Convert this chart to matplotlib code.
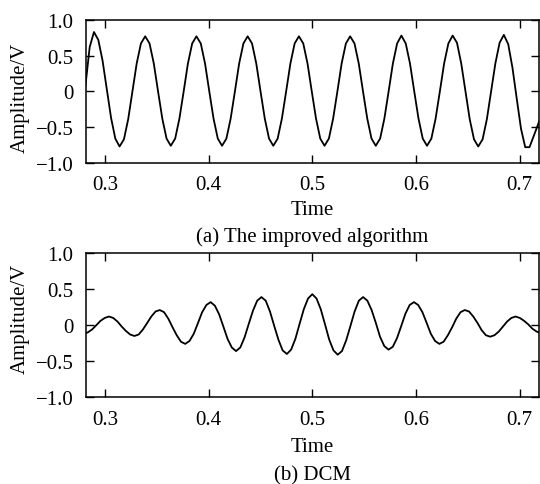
import matplotlib
matplotlib.use("Agg")
import matplotlib.pyplot as plt

plt.rcParams['font.family'] = ['Liberation Serif', 'DejaVu Serif']
plt.rcParams['axes.unicode_minus'] = True

# (a) improved algorithm: time samples and amplitude
t_a = [0.2813, 0.2854, 0.2895, 0.2937, 0.2978, 0.3019, 0.3060, 0.3101, 0.3142, 0.3184,
       0.3225, 0.3266, 0.3307, 0.3348, 0.3389, 0.3431, 0.3472, 0.3513, 0.3554, 0.3595,
       0.3636, 0.3678, 0.3719, 0.3760, 0.3801, 0.3842, 0.3883, 0.3925, 0.3966, 0.4007,
       0.4048, 0.4089, 0.4130, 0.4172, 0.4213, 0.4254, 0.4295, 0.4336, 0.4377, 0.4419,
       0.4460, 0.4501, 0.4542, 0.4583, 0.4624, 0.4666, 0.4707, 0.4748, 0.4789, 0.4830,
       0.4871, 0.4913, 0.4954, 0.4995, 0.5036, 0.5077, 0.5118, 0.5160, 0.5201, 0.5242,
       0.5283, 0.5324, 0.5365, 0.5407, 0.5448, 0.5489, 0.5530, 0.5571, 0.5612, 0.5654,
       0.5695, 0.5736, 0.5777, 0.5818, 0.5859, 0.5901, 0.5942, 0.5983, 0.6024, 0.6065,
       0.6106, 0.6148, 0.6189, 0.6230, 0.6271, 0.6312, 0.6353, 0.6395, 0.6436, 0.6477,
       0.6518, 0.6559, 0.6600, 0.6642, 0.6683, 0.6724, 0.6765, 0.6806, 0.6847, 0.6889,
       0.6930, 0.6971, 0.7012, 0.7053, 0.7094, 0.7136, 0.7177, 0.7218]
v_a = [0.08, 0.62,
       0.83, 0.72, 0.43, 0.03, -0.37, -0.66, -0.77, -0.67, -0.39, 0.00, 0.39, 0.67,
       0.77, 0.67, 0.39, 0.00, -0.38, -0.66, -0.76, -0.66, -0.38, 0.00, 0.39, 0.67,
       0.77, 0.67, 0.39, 0.00, -0.38, -0.66, -0.76, -0.66, -0.38, 0.00, 0.39, 0.67,
       0.77, 0.67, 0.39, 0.00, -0.38, -0.66, -0.76, -0.66, -0.38, 0.00, 0.39, 0.67,
       0.77, 0.67, 0.39, 0.00, -0.38, -0.66, -0.76, -0.66, -0.38, 0.00, 0.39, 0.67,
       0.77, 0.67, 0.39, 0.00, -0.38, -0.66, -0.76, -0.66, -0.38, 0.00, 0.39, 0.67,
       0.78, 0.67, 0.39, 0.00, -0.38, -0.66, -0.76, -0.66, -0.38, 0.00, 0.39, 0.67,
       0.78, 0.68, 0.39, 0.00, -0.39, -0.67, -0.77, -0.67, -0.39, 0.00, 0.39, 0.68,
       0.79, 0.66, 0.33, -0.10, -0.52, -0.78, -0.78, -0.62, -0.46, -0.30]

# (b) DCM: time samples and amplitude
t_b = [0.2795, 0.2836, 0.2877, 0.2918, 0.2958, 0.2999, 0.3040, 0.3081, 0.3122, 0.3163,
       0.3203, 0.3244, 0.3285, 0.3326, 0.3367, 0.3408, 0.3448, 0.3489, 0.3530, 0.3571,
       0.3612, 0.3653, 0.3693, 0.3734, 0.3775, 0.3816, 0.3857, 0.3898, 0.3938, 0.3979,
       0.4020, 0.4061, 0.4102, 0.4143, 0.4183, 0.4224, 0.4265, 0.4306, 0.4347, 0.4388,
       0.4428, 0.4469, 0.4510, 0.4551, 0.4592, 0.4633, 0.4673, 0.4714, 0.4755, 0.4796,
       0.4837, 0.4878, 0.4918, 0.4959, 0.5000, 0.5041, 0.5082, 0.5123, 0.5163, 0.5204,
       0.5245, 0.5286, 0.5327, 0.5368, 0.5408, 0.5449, 0.5490, 0.5531, 0.5572, 0.5613,
       0.5653, 0.5694, 0.5735, 0.5776, 0.5817, 0.5858, 0.5898, 0.5939, 0.5980, 0.6021,
       0.6062, 0.6103, 0.6143, 0.6184, 0.6225, 0.6266, 0.6307, 0.6348, 0.6388, 0.6429,
       0.6470, 0.6511, 0.6552, 0.6593, 0.6633, 0.6674, 0.6715, 0.6756, 0.6797, 0.6838,
       0.6878, 0.6919, 0.6960, 0.7001, 0.7042, 0.7083, 0.7123, 0.7164, 0.7205]
v_b = [-0.12, -0.10, -0.06, 0.00, 0.06, 0.10,
       0.12, 0.10, 0.05, -0.02, -0.08, -0.13,
       -0.15, -0.13, -0.06, 0.03, 0.12, 0.19,
       0.21, 0.18, 0.09, -0.03, -0.14, -0.23,
       -0.26, -0.22, -0.12, 0.03, 0.18, 0.28,
       0.32, 0.27, 0.15, -0.02, -0.19, -0.31,
       -0.36, -0.31, -0.17, 0.02, 0.20, 0.34,
       0.39, 0.34, 0.19, -0.01, -0.20, -0.35,
       -0.40, -0.34, -0.19, 0.02, 0.22, 0.37,
       0.43, 0.37, 0.22, 0.01, -0.20, -0.35,
       -0.41, -0.36, -0.21, -0.01, 0.19, 0.34,
       0.39, 0.34, 0.21, 0.03, -0.16, -0.29,
       -0.34, -0.30, -0.18, -0.01, 0.16, 0.28,
       0.32, 0.28, 0.18, 0.03, -0.12, -0.22,
       -0.26, -0.23, -0.14, -0.03, 0.09, 0.18,
       0.21, 0.19, 0.12, 0.03, -0.07, -0.14,
       -0.16, -0.14, -0.09, -0.02, 0.05, 0.10,
       0.12, 0.10, 0.06, 0.01, -0.05, -0.09,
       -0.11]

xticks = [0.3, 0.4, 0.5, 0.6, 0.7]
yticks = [-1.0, -0.5, 0, 0.5, 1.0]
ytick_labels = ['\u22121.0', '\u22120.5', '0', '0.5', '1.0']
captions = ['(a) The improved algorithm', '(b) DCM']

fs = 15
fig = plt.figure(figsize=(5.4, 4.85), dpi=100)
ax1 = fig.add_axes([0.159, 0.662, 0.839, 0.295])
ax2 = fig.add_axes([0.159, 0.179, 0.839, 0.297])

for ax, t, v in [(ax1, t_a, v_a), (ax2, t_b, v_b)]:
    ax.plot(t, v, color='black', lw=1.3)
    ax.set_xlim(0.2817, 0.7185)
    ax.set_ylim(-1.0, 1.0)
    ax.set_xticks(xticks)
    ax.set_xticklabels([str(x) for x in xticks])
    ax.set_yticks(yticks)
    ax.set_yticklabels(ytick_labels)
    ax.tick_params(direction='in', top=True, right=True, length=6, width=1,
                   labelsize=fs, colors='black')
    ax.tick_params(axis='x', pad=9)
    ax.tick_params(axis='y', pad=9)
    for s in ax.spines.values():
        s.set_linewidth(1.1)

xc = 0.5787
fig.text(0.037, 0.799, 'Amplitude/V', rotation=90, ha='center', va='center', fontsize=fs)
fig.text(0.037, 0.343, 'Amplitude/V', rotation=90, ha='center', va='center', fontsize=fs)
fig.text(xc, 0.565, 'Time', ha='center', va='center', fontsize=fs)
fig.text(xc, 0.511, captions[0], ha='center', va='center', fontsize=fs)
fig.text(xc, 0.078, 'Time', ha='center', va='center', fontsize=fs)
fig.text(xc, 0.019, captions[1], ha='center', va='center', fontsize=fs)

fig.savefig('out.png', dpi=100, facecolor='white')
